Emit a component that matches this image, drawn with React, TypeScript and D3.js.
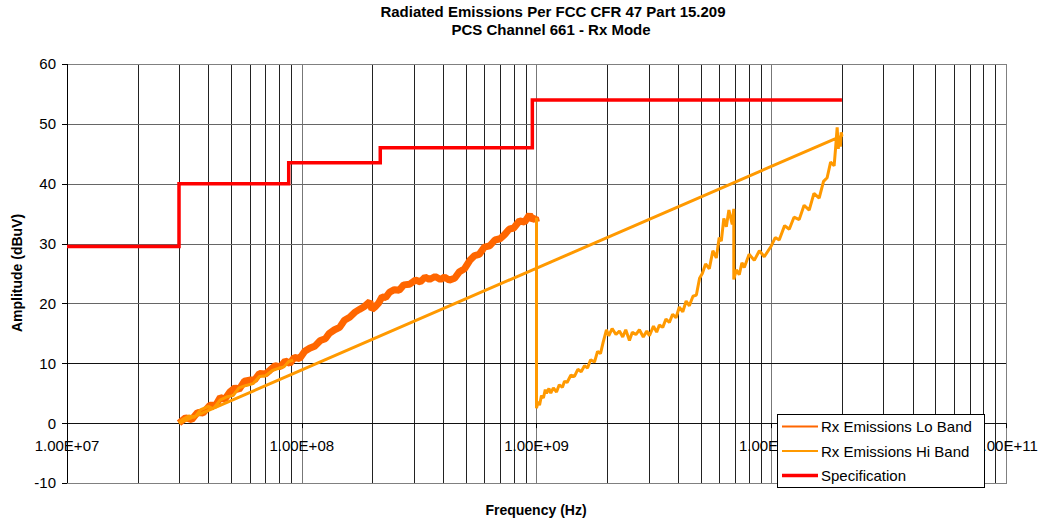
import React, { useRef, useEffect } from "react";
import * as d3 from "d3";

// frequencies in MHz, amplitudes in dBuV
const loBandFreq = [30, 32, 34, 36, 38, 40.6, 43, 45, 47, 49.4, 52, 54, 57, 60, 63, 66, 70, 73, 77, 81, 85, 89, 93, 98, 103, 108, 114, 120, 126, 131, 138, 145, 152, 160, 168, 176, 185, 195, 199, 205, 212, 220, 228, 237, 248, 260, 272, 288, 305, 320, 335, 350, 370, 390, 406, 425, 448, 470, 494, 520, 545, 570, 600, 631, 665, 700, 731, 765, 800, 847, 890, 934, 960, 990, 1000];
const loBandAmp = [0.0, 0.9, 0.6, 1.8, 1.7, 3.0, 3.0, 4.3, 4.0, 5.2, 5.9, 5.6, 7.0, 7.2, 7.2, 8.3, 8.2, 8.8, 9.6, 9.4, 10.4, 10.0, 11.0, 10.8, 12.0, 12.5, 12.9, 13.8, 14.1, 15.0, 15.6, 16.0, 17.2, 17.7, 18.5, 19.0, 19.5, 20.3, 19.0, 19.4, 20.0, 21.1, 21.0, 21.9, 22.3, 22.2, 23.1, 23.2, 23.9, 23.6, 24.4, 24.0, 24.5, 24.0, 24.4, 23.9, 24.2, 25.3, 25.8, 27.2, 28.0, 28.2, 29.4, 29.6, 30.6, 30.8, 31.5, 32.4, 32.6, 33.8, 33.6, 34.8, 34.0, 34.3, 33.6];

const hiBandFreq = [1000, 1000, 1015, 1030, 1050, 1070, 1090, 1103, 1130, 1150, 1180, 1217, 1250, 1290, 1316, 1350, 1400, 1451, 1500, 1550, 1601, 1650, 1700, 1766, 1820, 1873, 1920, 1986, 2030, 2100, 2180, 2256, 2330, 2400, 2488, 2560, 2650, 2744, 2850, 2950, 3027, 3150, 3250, 3337, 3450, 3560, 3681, 3800, 3930, 4059, 4200, 4340, 4478, 4640, 4797, 4950, 5086, 5250, 5447, 5640, 5834, 6000, 6127, 6280, 6435, 6600, 6823, 6924, 6924, 7100, 7308, 7500, 7674, 8050, 8466, 8900, 9336, 10000, 10400, 10810, 11400, 11930, 12500, 13150, 13800, 14510, 15200, 16000, 16700, 17300, 17900, 18530, 18800, 19090, 19300, 19470, 19700, 19860, 20000, 30, 31, 33, 35, 37, 40, 42, 45, 48, 51, 54, 58, 62, 66, 70, 75, 80, 84, 88, 92];
const hiBandAmp = [34.3, 2.5, 3.6, 3.0, 4.6, 4.2, 5.6, 5.0, 5.8, 5.0, 5.9, 5.2, 6.4, 6.0, 7.0, 6.8, 8.0, 7.8, 9.0, 8.6, 9.6, 9.2, 10.6, 10.2, 12.0, 11.6, 13.4, 15.6, 14.6, 15.8, 14.8, 15.4, 14.4, 15.6, 13.8, 15.2, 14.8, 15.6, 14.4, 15.4, 14.6, 16.2, 15.2, 16.4, 16.0, 17.4, 16.8, 18.2, 17.6, 19.4, 18.6, 20.4, 19.6, 21.2, 21.4, 24.2, 25.0, 26.6, 25.8, 28.8, 27.6, 31.0, 30.4, 34.2, 32.8, 35.6, 33.2, 35.8, 24.0, 25.6, 24.8, 26.8, 26.0, 28.2, 27.2, 28.8, 27.8, 29.6, 31.0, 30.6, 33.0, 32.4, 34.4, 34.0, 36.4, 35.6, 38.4, 37.6, 40.4, 41.0, 43.6, 43.0, 46.0, 49.4, 45.8, 47.6, 46.2, 48.6, 48.0, 0.0, 0.6, 1.2, 1.0, 2.2, 2.8, 2.4, 3.9, 4.4, 4.6, 5.9, 6.3, 6.6, 7.8, 7.9, 8.8, 9.2, 9.4, 10.3, 10.5];

const specFreq = [10, 30, 88, 216, 960, 20000];
const specAmp = [29.5, 40, 43.5, 46, 54, 54];

const yTicks = [-10, 0, 10, 20, 30, 40, 50, 60];
const decades = [1e7, 1e8, 1e9, 1e10, 1e11];
const decadeLabels = ["1.00E+07", "1.00E+08", "1.00E+09", "1.00E+10", "1.00E+11"];

const seriesNames = ["Rx Emissions Lo Band", "Rx Emissions Hi Band", "Specification"];
const seriesColors = ["#FF6600", "#FF9900", "#FF0000"];

const App = () => {
  const chartRef = useRef<HTMLDivElement>(null);

  useEffect(() => {
    const width = 1042;
    const height = 524;
    const marginLeft = 67;
    const marginRight = 36;
    const marginTop = 64;
    const marginBottom = 41;
    const font = "'Liberation Sans', Arial, sans-serif";

    const x = d3.scaleLog().domain([1e7, 1e11]).range([marginLeft, width - marginRight]);
    const y = d3.scaleLinear().domain([-10, 60]).range([height - marginBottom, marginTop]);

    const svg = d3.create("svg")
      .attr("width", width)
      .attr("height", height)
      .attr("viewBox", [0, 0, width, height])
      .attr("style", "position:absolute;left:0;top:0;background:#fff");

    // grid
    const minor: number[] = [];
    for (let e = 7; e < 11; e++) for (let m = 1; m < 10; m++) minor.push(m * Math.pow(10, e));
    minor.push(1e11);

    svg.append("g")
      .selectAll("line")
      .data(minor)
      .join("line")
      .attr("x1", d => Math.round(x(d)) + 0.5)
      .attr("x2", d => Math.round(x(d)) + 0.5)
      .attr("y1", y(60))
      .attr("y2", y(-10))
      .attr("stroke", d => (decades.includes(d) ? "#777" : "#222"))
      .attr("stroke-width", 1);

    svg.append("g")
      .selectAll("line")
      .data(yTicks)
      .join("line")
      .attr("x1", marginLeft)
      .attr("x2", width - marginRight)
      .attr("y1", d => Math.round(y(d)) + 0.5)
      .attr("y2", d => Math.round(y(d)) + 0.5)
      .attr("stroke", d => (d === 0 || d === 10 || d === -10 ? "#111" : "#666"))
      .attr("stroke-width", 1);

    // border
    svg.append("rect")
      .attr("x", marginLeft + 0.5)
      .attr("y", y(60) + 0.5)
      .attr("width", x(1e11) - marginLeft)
      .attr("height", y(-10) - y(60))
      .attr("fill", "none")
      .attr("stroke", "#808080");

    // y axis
    svg.append("line")
      .attr("x1", marginLeft + 0.5).attr("x2", marginLeft + 0.5)
      .attr("y1", y(60)).attr("y2", y(-10))
      .attr("stroke", "#000");

    svg.append("g")
      .selectAll("line")
      .data(yTicks)
      .join("line")
      .attr("x1", marginLeft - 5)
      .attr("x2", marginLeft)
      .attr("y1", d => Math.round(y(d)) + 0.5)
      .attr("y2", d => Math.round(y(d)) + 0.5)
      .attr("stroke", "#000");

    svg.append("g")
      .selectAll("text")
      .data(yTicks)
      .join("text")
      .attr("x", marginLeft - 11)
      .attr("y", d => y(d))
      .attr("dy", "0.36em")
      .attr("text-anchor", "end")
      .attr("font-family", font)
      .attr("font-size", 15)
      .attr("fill", "#000")
      .text(d => d);

    // x axis crosses at 0
    svg.append("g")
      .selectAll("line")
      .data(decades)
      .join("line")
      .attr("x1", d => Math.round(x(d)) + 0.5)
      .attr("x2", d => Math.round(x(d)) + 0.5)
      .attr("y1", y(0))
      .attr("y2", y(0) + 5)
      .attr("stroke", "#000");

    svg.append("g")
      .selectAll("text")
      .data(decades)
      .join("text")
      .attr("x", d => x(d))
      .attr("y", y(0) + 28)
      .attr("text-anchor", "middle")
      .attr("font-family", font)
      .attr("font-size", 15)
      .attr("fill", "#000")
      .text((d, i) => decadeLabels[i]);

    // series
    const line = d3.line<[number, number]>()
      .x(d => x(d[0] * 1e6))
      .y(d => y(d[1]));

    const lo = loBandFreq.map((f, i) => [f, loBandAmp[i]] as [number, number]);
    const hi = hiBandFreq.map((f, i) => [f, hiBandAmp[i]] as [number, number]);
    const spec = specFreq.map((f, i) => [f, specAmp[i]] as [number, number]);

    svg.append("path")
      .attr("d", line(lo))
      .attr("fill", "none")
      .attr("stroke", seriesColors[0])
      .attr("stroke-width", 7)
      .attr("stroke-linejoin", "bevel");

    svg.append("path")
      .attr("d", line(hi))
      .attr("fill", "none")
      .attr("stroke", seriesColors[1])
      .attr("stroke-width", 3)
      .attr("stroke-linejoin", "bevel");

    svg.append("path")
      .attr("d", line.curve(d3.curveStepAfter)(spec))
      .attr("fill", "none")
      .attr("stroke", seriesColors[2])
      .attr("stroke-width", 3.5);

    // titles
    svg.append("text")
      .attr("x", 553).attr("y", 17)
      .attr("text-anchor", "middle")
      .attr("font-family", font).attr("font-size", 15).attr("font-weight", "bold")
      .text("Radiated Emissions Per FCC CFR 47 Part 15.209");
    svg.append("text")
      .attr("x", 551).attr("y", 35)
      .attr("text-anchor", "middle")
      .attr("font-family", font).attr("font-size", 15).attr("font-weight", "bold")
      .text("PCS Channel 661 - Rx Mode");

    svg.append("text")
      .attr("x", 536).attr("y", 515)
      .attr("text-anchor", "middle")
      .attr("font-family", font).attr("font-size", 14).attr("font-weight", "bold")
      .text("Frequency (Hz)");

    svg.append("text")
      .attr("transform", "translate(22,273) rotate(-90)")
      .attr("text-anchor", "middle")
      .attr("font-family", font).attr("font-size", 14).attr("font-weight", "bold")
      .text("Amplitude (dBuV)");

    // legend
    const legend = svg.append("g").attr("transform", "translate(777,414)");
    legend.append("rect")
      .attr("x", 0.5).attr("y", 0.5)
      .attr("width", 207).attr("height", 73)
      .attr("fill", "#fff").attr("stroke", "#000");

    seriesNames.forEach((name, i) => {
      const row = legend.append("g").attr("transform", `translate(0,${12.5 + i * 24.5})`);
      row.append("line")
        .attr("x1", 5).attr("x2", 41)
        .attr("stroke", seriesColors[i])
        .attr("stroke-width", i === 2 ? 3.5 : 2);
      row.append("text")
        .attr("x", 44).attr("y", 5.5)
        .attr("font-family", font).attr("font-size", 15)
        .attr("fill", "#000")
        .text(name);
    });

    chartRef.current!.innerHTML = "";
    chartRef.current!.appendChild(svg.node()!);
  }, []);

  return <div ref={chartRef} />;
};

export default App;
